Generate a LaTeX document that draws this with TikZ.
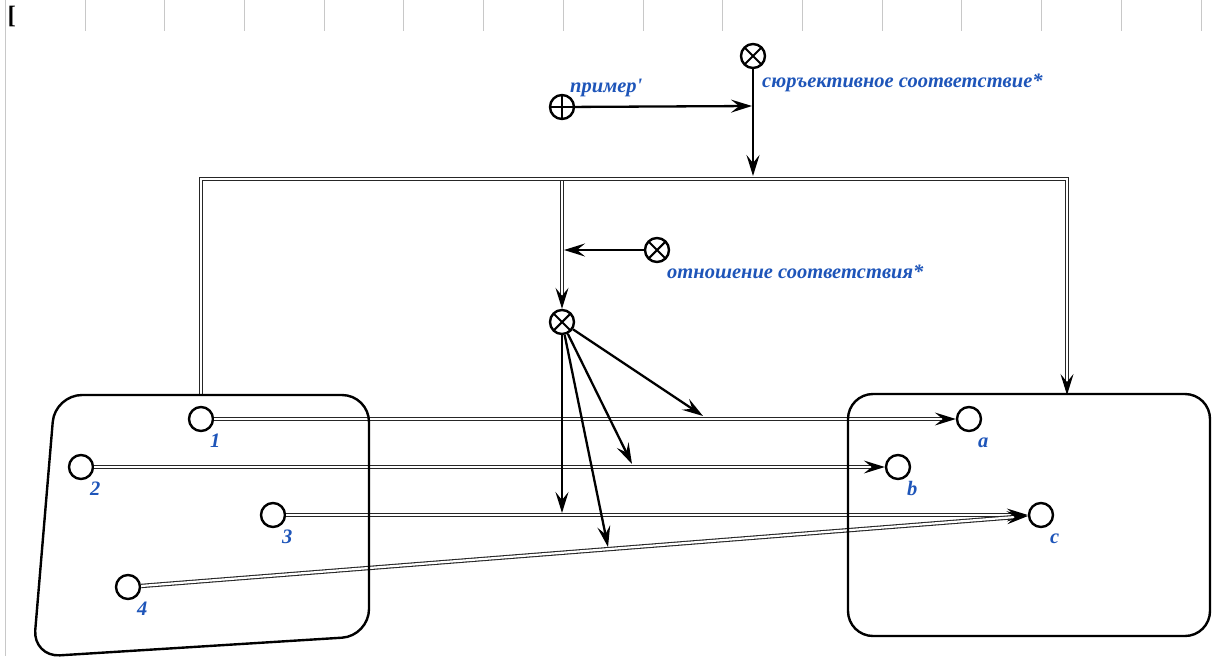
\documentclass[tikz,border=0pt]{standalone}
\usepackage{fontspec}
\setmainfont{Liberation Serif}
\usetikzlibrary{arrows.meta,calc}
\definecolor{lblblue}{RGB}{30,85,185}
\definecolor{gridgray}{RGB}{200,200,200}
\font\rawbi="Liberation Serif/BI" at 20.5pt
\begin{document}
\begin{tikzpicture}[x=1pt,y=-1pt,
  lbl/.style={font=\bfseries\itshape\fontsize{20.5}{22}\selectfont, text=lblblue, inner sep=0pt, anchor=base west},
  elem/.style={circle, draw, line width=2.4pt, minimum size=24pt, inner sep=0pt, fill=white},
  xelem/.style={elem, path picture={\draw[line width=2.1pt] (path picture bounding box.north west) -- (path picture bounding box.south east) (path picture bounding box.south west) -- (path picture bounding box.north east);}},
  pelem/.style={elem, path picture={\draw[line width=2.1pt] (path picture bounding box.north) -- (path picture bounding box.south) (path picture bounding box.west) -- (path picture bounding box.east);}},
  tip/.style={-{Stealth[length=21pt,width=13pt,inset=8pt,color=black]}},
  arr/.style={line width=2.3pt, tip},
  dbl/.style={draw=black!85, line width=1.1pt, double=white, double distance=2.2pt},
  dblarr/.style={dbl, tip},
  box/.style={line width=2.4pt, rounded corners=27pt},
  grid/.style={draw=gridgray, line width=1pt}
]
\useasboundingbox (0,0) rectangle (1214,656);
% page frame
\draw[grid] (5.5,0) -- (5.5,656);
\foreach \i in {0,...,14} {\draw[grid] ({85+79.72*\i},0) -- ({85+79.72*\i},30.7);}
\node[anchor=north west, inner sep=0pt, font=\bfseries\fontsize{25}{27}\selectfont] (br) at (7.5,5.5) {[};

% elements
\node[pelem] (plus) at (562,107) {};
\node[xelem] (surj) at (753,56) {};
\node[xelem] (rel) at (657,250) {};
\node[xelem] (X) at (562,322) {};
\node[elem] (n1) at (201,419) {};
\node[elem] (n2) at (81,467) {};
\node[elem] (n3) at (273,515) {};
\node[elem] (n4) at (128,587) {};
\node[elem] (a) at (969,419) {};
\node[elem] (b) at (898,467) {};
\node[elem] (c) at (1041,515) {};

% junction coordinates
\coordinate (Ltop) at (201,395);
\coordinate (Rc) at (1067,179);
\coordinate (Rtop) at (1067,395);
\coordinate (J3) at (562,179);
\coordinate (J4) at (753,176);
\coordinate (M) at (752,106);
\coordinate (R1) at (564,250);
\coordinate (T1) at (703,416);
\coordinate (T2) at (632,464);
\coordinate (T3) at (562,513);
\coordinate (T4) at (608,547);

% double connectors
\draw[dblarr] (J3) -- (X);
\draw[dblarr] (Ltop) |- (Rc) -- (Rtop);
\draw[dblarr] (n1) -- (a);
\draw[dblarr] (n2) -- (b);
\draw[dblarr] (n3) -- (c);
\draw[dblarr] (n4) -- (c);

% boxes
\draw[box] (55,395) -- (369,395) -- (369,636) -- (33,657) -- cycle;
\draw[box, rounded corners=25pt] (848,394) rectangle (1210,636);

% single arrows
\draw[arr] (surj) -- (J4);
\draw[arr] (plus) -- (M);
\draw[arr] (rel) -- (R1);
\draw[arr] (X) -- (T1);
\draw[arr] (X) -- (T2);
\draw[arr] (X) -- (T3);
\draw[arr] (X) -- (T4);

% labels
\node[lbl] (lplus) at (570,92) {пример{\rawbi '}};
\node[lbl] (lsurj) at (762,87) {сюръективное соответствие*};
\node[lbl] (lrel) at (667,278) {отношение соответствия*};
\node[lbl] (l1) at (210,447) {1};
\node[lbl] (l2) at (90,495) {2};
\node[lbl] (l3) at (282,543) {3};
\node[lbl] (l4) at (137,615) {4};
\node[lbl] (la) at (978,447) {a};
\node[lbl] (lb) at (907,495) {b};
\node[lbl] (lc) at (1050,543) {c};
\end{tikzpicture}
\end{document}
